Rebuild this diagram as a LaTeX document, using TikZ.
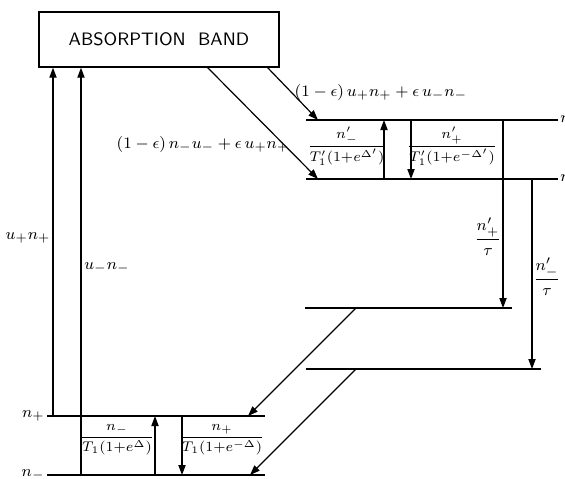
\documentclass[tikz,border=0pt]{standalone}
\usepackage{amsmath}
\usetikzlibrary{arrows.meta}
\tikzset{
  level/.style={line width=0.7pt},
  trans/.style={line width=0.6pt,-{Triangle[length=5pt,width=3.6pt]}},
  plain/.style={line width=0.6pt},
  lab/.style={font=\footnotesize, inner sep=1pt},
  rate/.style={font=\fontsize{6.6}{8}\selectfont, inner sep=0pt}
}
\begin{document}
\begin{tikzpicture}[x=0.5pt,y=-0.5pt]
\useasboundingbox (0,0) rectangle (565,478);
% absorption band
\node[draw, line width=0.7pt, minimum width=120pt, minimum height=27.5pt, font=\sffamily\small] (band) at (159,39.5) {ABSORPTION\ \ BAND};
% ends of the levels
\coordinate (npL) at (47,416);  \coordinate (npR) at (265,416);
\coordinate (nmL) at (47,475);  \coordinate (nmR) at (265,475);
\coordinate (upL) at (306,120); \coordinate (upR) at (558,120);
\coordinate (umL) at (306,179); \coordinate (umR) at (558,179);
\coordinate (iaL) at (305,308); \coordinate (iaR) at (512,308);
\coordinate (ibL) at (306,369); \coordinate (ibR) at (541,369);
\draw[level] (npL) -- (npR);
\draw[level] (nmL) -- (nmR);
\draw[level] (upL) -- (upR);
\draw[level] (umL) -- (umR);
\draw[level] (iaL) -- (iaR);
\draw[level] (ibL) -- (ibR);
\node[lab, anchor=east] (lnp) at (npL) {$n_+$};
\node[lab, anchor=east] (lnm) at (nmL) {$n_-$};
\node[lab, anchor=west] (lup) at (upR) {$n'_+$};
\node[lab, anchor=west] (lum) at (umR) {$n'_-$};
% pumping up to the band
\coordinate (p1) at (53,416);
\coordinate (p2) at (81,475);
\draw[trans] (p1) -- (p1 |- band.south);
\draw[trans] (p2) -- (p2 |- band.south);
\node[lab] (lp1) at (28,238) {$u_+n_+$};
\node[lab] (lp2) at (107,268) {$u_-n_-$};
% out of the band
\coordinate (b1) at (207,67);  \coordinate (e1) at (318,179);
\coordinate (b2) at (267,67);  \coordinate (e2) at (318,120);
\draw[trans] (b1) -- (e1);
\draw[trans] (b2) -- (e2);
\node[lab] (lb2) at (381,92) {$(1-\epsilon)\,u_+n_+ + \epsilon\,u_-n_-$};
\node[lab] (lb1) at (203,144) {$(1-\epsilon)\,n_-u_- + \epsilon\,u_+n_+$};
% upper relaxation
\coordinate (r1) at (384,179); \coordinate (r2) at (411,120);
\draw[trans] (r1) -- (r1 |- upL);
\draw[trans] (r2) -- (r2 |- umL);
\node[rate] (lr1) at (347,146) {$\dfrac{n'_-}{T'_1(1{+}e^{\Delta'})}$};
\node[rate] (lr2) at (452,146) {$\dfrac{n'_+}{T'_1(1{+}e^{-\Delta'})}$};
% decay
\coordinate (d1) at (503,120); \coordinate (d2) at (532,179);
\draw[trans] (d1) -- (d1 |- iaL);
\draw[trans] (d2) -- (d2 |- ibL);
\node[lab] (ld1) at (488,237) {$\dfrac{n'_+}{\tau}$};
\node[lab] (ld2) at (547,277) {$\dfrac{n'_-}{\tau}$};
% down to the ground pair
\coordinate (g1) at (356,308); \coordinate (h1) at (248,416);
\coordinate (g2) at (356,369); \coordinate (h2) at (250,475);
\draw[trans] (g1) -- (h1);
\draw[trans] (g2) -- (h2);
% lower relaxation
\coordinate (q1) at (155,475); \coordinate (q2) at (182,416);
\draw[trans] (q1) -- (q1 |- npL);
\draw[trans] (q2) -- (q2 |- nmL);
\node[rate] (lq1) at (117,440) {$\dfrac{n_-}{T_1(1{+}e^{\Delta})}$};
\node[rate] (lq2) at (222,440) {$\dfrac{n_+}{T_1(1{+}e^{-\Delta})}$};
\end{tikzpicture}
\end{document}
